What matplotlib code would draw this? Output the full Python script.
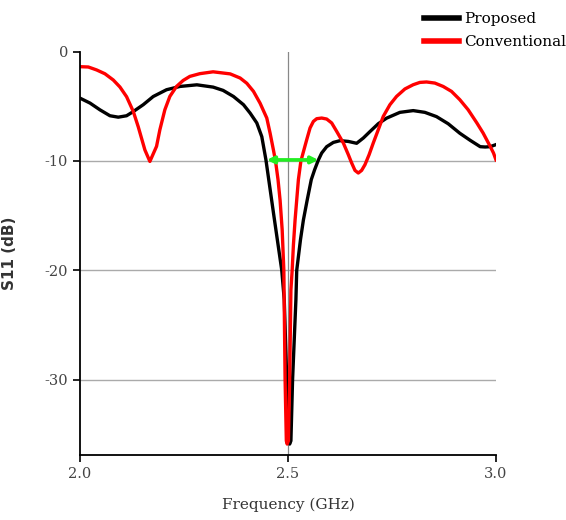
import matplotlib
matplotlib.use("Agg")
from matplotlib import pyplot as plt

# S11 curves (GHz, dB)
freq_prop = [2.000, 2.024, 2.048, 2.072, 2.092, 2.112, 2.128, 2.152, 2.176, 2.208,
             2.240, 2.281, 2.320, 2.344, 2.369, 2.393, 2.409, 2.425, 2.437, 2.447,
             2.466, 2.485, 2.491, 2.497, 2.501, 2.504, 2.507, 2.511,
             2.519, 2.521, 2.530, 2.537, 2.546, 2.556, 2.564, 2.573, 2.581, 2.593,
             2.609, 2.625, 2.645, 2.665, 2.681, 2.697, 2.717, 2.737, 2.769, 2.801,
             2.829, 2.857, 2.885, 2.913, 2.938, 2.962, 2.974, 2.986, 3.000]
s11_prop = [-4.25, -4.70, -5.32, -5.86, -5.99, -5.86, -5.48, -4.85, -4.10, -3.48,
            -3.18, -3.03, -3.24, -3.54, -4.10, -4.85, -5.62, -6.52, -7.77, -9.91,
            -15.0, -20.0, -22.7, -30.0, -35.6, -35.9, -35.6, -30.0,
            -22.7, -20.0, -17.2, -15.4, -13.6, -11.7, -10.8, -9.91, -9.27, -8.69,
            -8.30, -8.14, -8.21, -8.38, -7.90, -7.31, -6.59, -6.08, -5.55, -5.39,
            -5.55, -5.94, -6.59, -7.46, -8.11, -8.69, -8.72, -8.69, -8.50]

freq_conv = [2.000, 2.020, 2.040, 2.060, 2.080, 2.096, 2.112, 2.128, 2.140, 2.156,
             2.168, 2.184, 2.192, 2.204, 2.216, 2.232, 2.248, 2.264, 2.288, 2.320,
             2.361, 2.385, 2.401, 2.417, 2.433, 2.449, 2.457, 2.465, 2.470, 2.476,
             2.481, 2.486, 2.490, 2.493, 2.496, 2.498, 2.501, 2.504, 2.507, 2.510,
             2.513, 2.517, 2.525, 2.531, 2.545, 2.553, 2.561, 2.569, 2.581, 2.593,
             2.605, 2.617, 2.633, 2.645, 2.653, 2.661, 2.669, 2.677, 2.685, 2.695,
             2.705, 2.717, 2.729, 2.745, 2.761, 2.781, 2.801, 2.817, 2.833, 2.853,
             2.873, 2.893, 2.913, 2.933, 2.954, 2.969, 2.986, 2.994, 3.000]
s11_conv = [-1.37, -1.40, -1.67, -2.02, -2.59, -3.23, -4.12, -5.46, -6.87, -8.99,
            -10.04, -8.66, -7.14, -5.31, -4.09, -3.18, -2.63, -2.26, -2.01, -1.84,
            -2.03, -2.41, -2.89, -3.63, -4.72, -6.07, -7.46, -9.0, -10.0, -11.7,
            -13.6, -16.3, -20.0, -30.0, -35.6, -35.9, -35.6, -30.0, -21.8, -20.0,
            -17.7, -15.4, -11.7, -10.0, -8.05, -6.98, -6.38, -6.13, -6.07, -6.16,
            -6.52, -7.29, -8.35, -9.42, -10.18, -10.86, -11.1, -10.86, -10.34, -9.42,
            -8.35, -7.14, -5.92, -4.85, -4.09, -3.41, -3.02, -2.81, -2.77, -2.87,
            -3.18, -3.63, -4.39, -5.31, -6.52, -7.44, -8.66, -9.27, -9.90]

band = [2.449, 2.573]
band_level = -9.9

plt.rcParams["font.family"] = ["DejaVu Serif"]

fig = plt.figure(figsize=(5.66, 5.2), dpi=100)
ax = fig.add_axes([80 / 566, 1 - 455 / 520, 416 / 566, (455 - 51.7) / 520])

for y in [-10, -20, -30]:
    ax.axhline(y, color="#aaaaaa", lw=1, zorder=0)
ax.axvline(2.5, color="#888888", lw=0.9, zorder=0)

ax.plot(freq_prop, s11_prop, color="black", lw=2.4, label="Proposed")
ax.plot(freq_conv, s11_conv, color="red", lw=2.4, label="Conventional")

ax.annotate("", xy=(band[1], band_level), xytext=(band[0], band_level),
            arrowprops=dict(arrowstyle="<|-|>", color="#22ee22", lw=2.6,
                            mutation_scale=10, shrinkA=0, shrinkB=0))

ax.set_xlim(2.0, 3.0)
ax.set_ylim(-36.9, 0)
ax.set_xticks([2.0, 2.5, 3.0])
ax.set_xticklabels(["2.0", "2.5", "3.0"])
ax.set_yticks([0, -10, -20, -30])
ax.set_yticklabels(["0", "-10", "-20", "-30"])
ax.tick_params(direction="out", length=5, width=1.2, labelsize=10.5,
               labelcolor="#444444", color="black")
ax.spines["top"].set_visible(False)
ax.spines["right"].set_visible(False)
ax.spines["left"].set_linewidth(1.3)
ax.spines["bottom"].set_linewidth(1.3)

ax.set_xlabel("Frequency (GHz)", fontsize=11, color="#333333", labelpad=12)
ax.set_ylabel("S11 (dB)", fontsize=11, family="DejaVu Sans", fontweight="bold",
              color="#333333", labelpad=20)

fig.legend(loc="upper left", bbox_to_anchor=(424 / 566, 1 - 12 / 520), frameon=False,
           fontsize=11, borderpad=0, borderaxespad=0, handlelength=2.3,
           handletextpad=0.35, labelspacing=0.58)
for line in fig.legends[0].get_lines():
    line.set_linewidth(4)

fig.savefig("out.png", dpi=100)
